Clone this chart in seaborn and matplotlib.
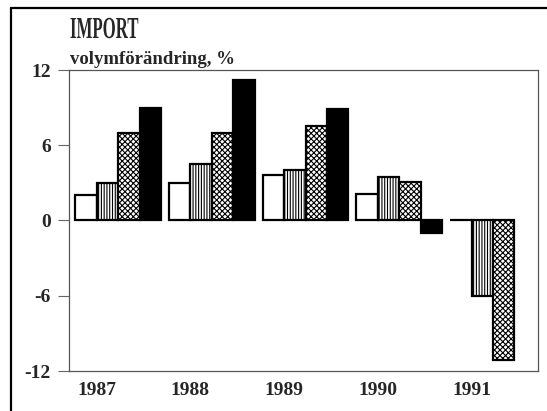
import numpy as np
import pandas as pd
import matplotlib
matplotlib.use("Agg")
import matplotlib.pyplot as plt
from matplotlib.lines import Line2D
from matplotlib.patheffects import AbstractPathEffect
from matplotlib.transforms import Affine2D
import seaborn as sns

years = ["1987", "1988", "1989", "1990", "1991"]
series = ["A", "B", "C", "D"]
vals_a = [2.0, 3.0, 3.6, 2.1, 0.0]
vals_b = [3.0, 4.5, 4.0, 3.5, -6.0]
vals_c = [7.0, 7.0, 7.5, 3.1, -11.1]
vals_d = [9.0, 11.2, 8.9, -1.0, np.nan]
y_ticks = [12, 6, 0, -6, -12]

rows = []
for s, vals in zip(series, [vals_a, vals_b, vals_c, vals_d]):
    for yr, v in zip(years, vals):
        rows.append({"year": yr, "serie": s, "value": v})
df = pd.DataFrame(rows)


class Squeeze(AbstractPathEffect):
    """Draw text glyphs horizontally compressed about the text origin."""

    def __init__(self, sx):
        super().__init__()
        self.sx = sx

    def draw_path(self, renderer, gc, tpath, affine, rgbFace=None):
        renderer.draw_path(gc, tpath, Affine2D().scale(self.sx, 1) + affine,
                           rgbFace)


sns.set_theme(style="white")
plt.rcParams["hatch.linewidth"] = 0.8
serif = ["Liberation Serif", "DejaVu Serif"]

fig = plt.figure(figsize=(5.47, 4.11), dpi=100)
ax = fig.add_axes([69 / 547, 1 - 371 / 411, 469 / 547, 301 / 411])

sns.barplot(data=df, x="year", y="value", hue="serie", order=years,
            hue_order=series, width=0.917, dodge=True, legend=False,
            palette=["white", "white", "white", "black"],
            edgecolor="black", linewidth=1.6, saturation=1, errorbar=None,
            ax=ax)

hatches = [None, "||||||", "xxxxxx", None]
for cont, h in zip(ax.containers, hatches):
    for bar in cont:
        if h:
            bar.set_hatch(h)

ax.set_ylim(-12, 12)
ax.set_xlim(-0.523, 4.48)
ax.set_yticks(y_ticks)
ax.set_yticklabels([str(t) for t in y_ticks], family=serif,
                   fontweight="bold", fontsize=14)
ax.set_xticks([i - 0.23 for i in range(len(years))])
ax.set_xticklabels(years, family=serif, fontweight="bold", fontsize=14)
ax.tick_params(axis="y", length=8, width=0.8, color="#666666", pad=5,
               left=True)
ax.tick_params(axis="x", length=0, pad=8)
ax.set_xlabel("")
ax.set_ylabel("")
for side, sp in ax.spines.items():
    sp.set_color("#555555")
    sp.set_linewidth(0.9)

fig.text(70 / 547, 1 - 38 / 411, "IMPORT", family=serif, fontsize=22,
         fontweight="bold", va="baseline", ha="left",
         path_effects=[Squeeze(0.55)])
fig.text(70 / 547, 1 - 64 / 411, "volymförändring, %", family=serif,
         fontweight="bold", fontsize=13.5, va="baseline", ha="left")

# outer frame
fig.add_artist(Line2D([11 / 547, 11 / 547], [0, 1 - 8 / 411],
                      transform=fig.transFigure, color="black", lw=1.6))
fig.add_artist(Line2D([11 / 547, 1], [1 - 8 / 411, 1 - 8 / 411],
                      transform=fig.transFigure, color="black", lw=1.6))

fig.savefig("out.png", dpi=100)
